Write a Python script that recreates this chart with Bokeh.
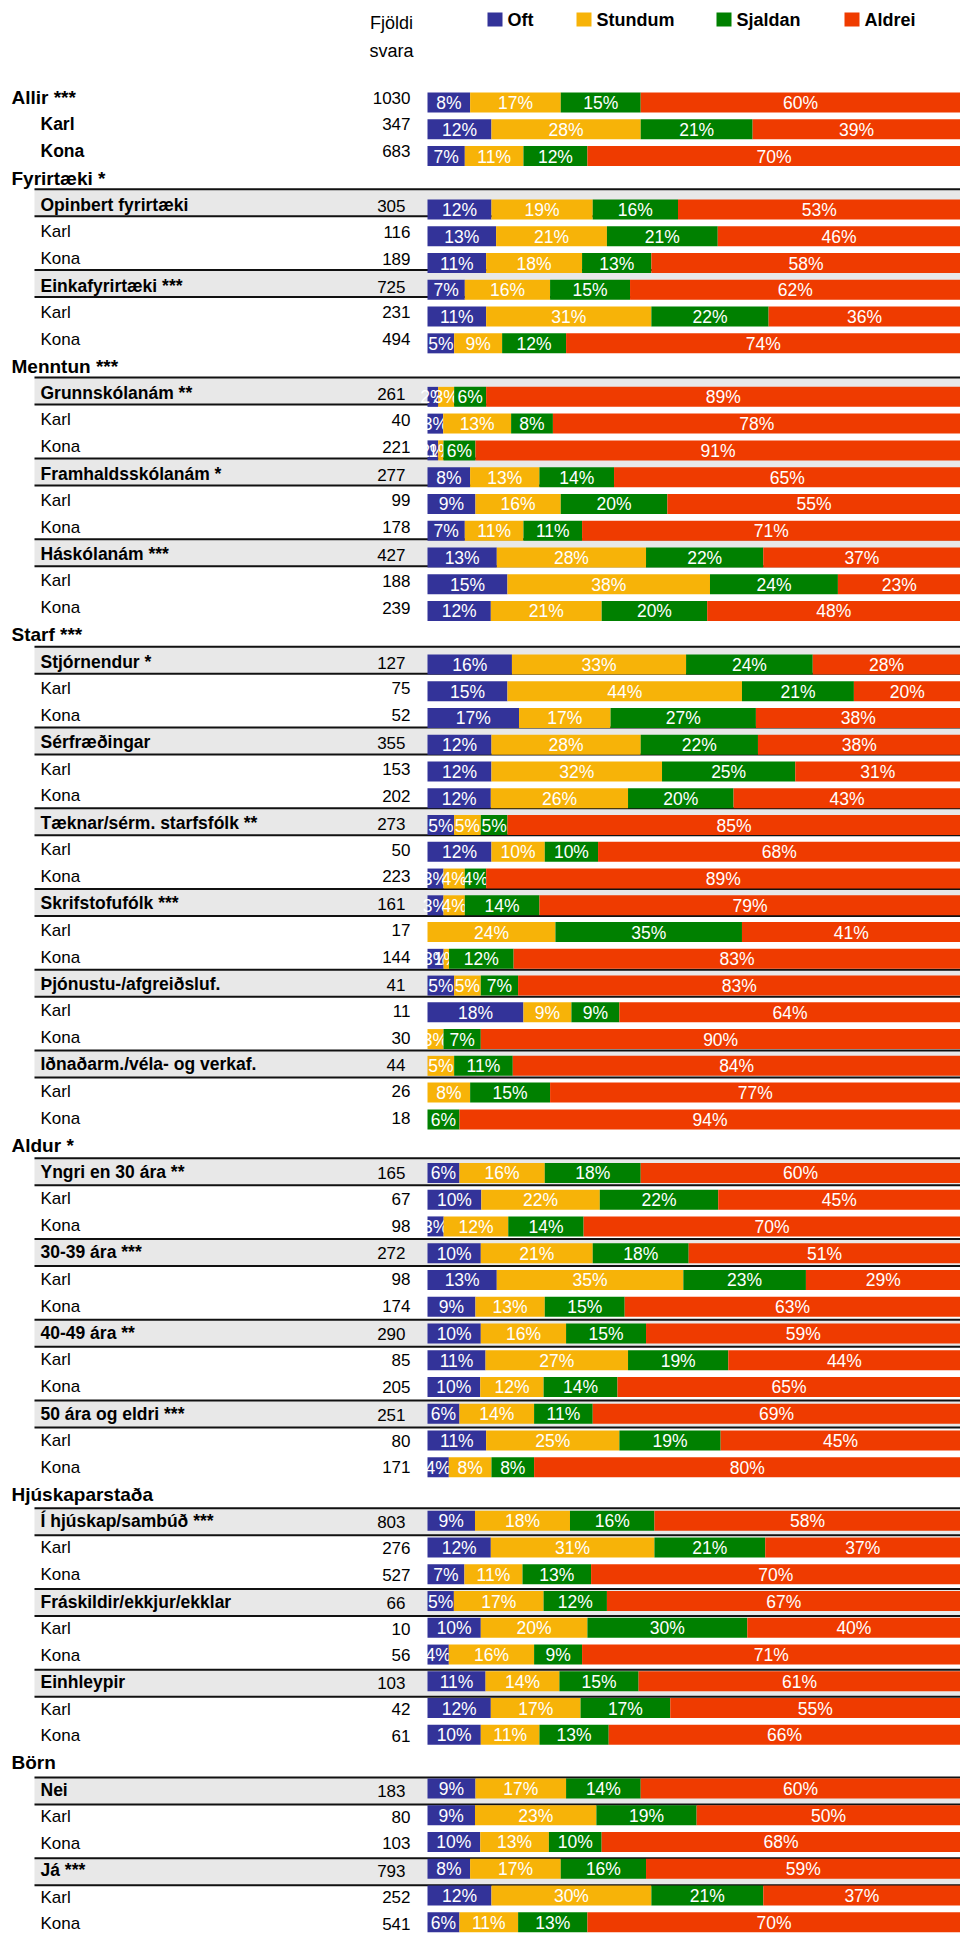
from bokeh.plotting import figure
from bokeh.models import Range1d
from bokeh.embed import file_html
from bokeh.resources import INLINE
from bokeh.core.properties import value

# ---------------- data ----------------
labels = ["Allir ***", "Karl", "Kona",
          "Fyrirtæki *", "Opinbert fyrirtæki", "Karl", "Kona", "Einkafyrirtæki ***", "Karl", "Kona",
          "Menntun ***", "Grunnskólanám **", "Karl", "Kona", "Framhaldsskólanám *", "Karl", "Kona",
          "Háskólanám ***", "Karl", "Kona",
          "Starf ***", "Stjórnendur *", "Karl", "Kona", "Sérfræðingar", "Karl", "Kona",
          "Tæknar/sérm. starfsfólk **", "Karl", "Kona", "Skrifstofufólk ***", "Karl", "Kona",
          "Þjónustu-/afgreiðsluf.", "Karl", "Kona", "Iðnaðarm./véla- og verkaf.", "Karl", "Kona",
          "Aldur *", "Yngri en 30 ára **", "Karl", "Kona", "30-39 ára ***", "Karl", "Kona",
          "40-49 ára **", "Karl", "Kona", "50 ára og eldri ***", "Karl", "Kona",
          "Hjúskaparstaða", "Í hjúskap/sambúð ***", "Karl", "Kona", "Fráskildir/ekkjur/ekklar", "Karl", "Kona",
          "Einhleypir", "Karl", "Kona",
          "Börn", "Nei", "Karl", "Kona", "Já ***", "Karl", "Kona"]

kinds = (["top", "topsub", "topsub"]
         + ["sec"] + ["grp", "sub", "sub"] * 2
         + ["sec"] + ["grp", "sub", "sub"] * 3
         + ["sec"] + ["grp", "sub", "sub"] * 6
         + ["sec"] + ["grp", "sub", "sub"] * 4
         + ["sec"] + ["grp", "sub", "sub"] * 3
         + ["sec"] + ["grp", "sub", "sub"] * 2)

counts = [1030, 347, 683,
          None, 305, 116, 189, 725, 231, 494,
          None, 261, 40, 221, 277, 99, 178, 427, 188, 239,
          None, 127, 75, 52, 355, 153, 202, 273, 50, 223, 161, 17, 144, 41, 11, 30, 44, 26, 18,
          None, 165, 67, 98, 272, 98, 174, 290, 85, 205, 251, 80, 171,
          None, 803, 276, 527, 66, 10, 56, 103, 42, 61,
          None, 183, 80, 103, 793, 252, 541]

oft = [8, 12, 7,
       None, 12, 13, 11, 7, 11, 5,
       None, 2, 3, 2, 8, 9, 7, 13, 15, 12,
       None, 16, 15, 17, 12, 12, 12, 5, 12, 3, 3, 0, 3, 5, 18, 0, 0, 0, 0,
       None, 6, 10, 3, 10, 13, 9, 10, 11, 10, 6, 11, 4,
       None, 9, 12, 7, 5, 10, 4, 11, 12, 10,
       None, 9, 9, 10, 8, 12, 6]
stundum = [17, 28, 11,
           None, 19, 21, 18, 16, 31, 9,
           None, 3, 13, 1, 13, 16, 11, 28, 38, 21,
           None, 33, 44, 17, 28, 32, 26, 5, 10, 4, 4, 24, 1, 5, 9, 3, 5, 8, 0,
           None, 16, 22, 12, 21, 35, 13, 16, 27, 12, 14, 25, 8,
           None, 18, 31, 11, 17, 20, 16, 14, 17, 11,
           None, 17, 23, 13, 17, 30, 11]
sjaldan = [15, 21, 12,
           None, 16, 21, 13, 15, 22, 12,
           None, 6, 8, 6, 14, 20, 11, 22, 24, 20,
           None, 24, 21, 27, 22, 25, 20, 5, 10, 4, 14, 35, 12, 7, 9, 7, 11, 15, 6,
           None, 18, 22, 14, 18, 23, 15, 15, 19, 14, 11, 19, 8,
           None, 16, 21, 13, 12, 30, 9, 15, 17, 13,
           None, 14, 19, 10, 16, 21, 13]
aldrei = [60, 39, 70,
          None, 53, 46, 58, 62, 36, 74,
          None, 89, 78, 91, 65, 55, 71, 37, 23, 48,
          None, 28, 20, 38, 38, 31, 43, 85, 68, 89, 79, 41, 83, 83, 64, 90, 84, 77, 94,
          None, 60, 45, 70, 51, 29, 63, 59, 44, 65, 69, 45, 80,
          None, 58, 37, 70, 67, 40, 71, 61, 55, 66,
          None, 60, 50, 68, 59, 37, 70]

series_names = ["Oft", "Stundum", "Sjaldan", "Aldrei"]
series_colors = ["#333399", "#f7b308", "#008000", "#ef3b00"]
header_lines = ["Fjöldi", "svara"]

# ---------------- layout ----------------
FONT = "Liberation Sans"
W, H = 960, 1935
BAR0, PXPCT = 427.0, 5.33


def X(sx):
    return (sx - BAR0) / PXPCT


def bar_y(i):
    return 102 + i * 26.76


def text_y(i):
    return 97 + i * 26.86


def band_top(i):
    return 81 + i * 26.92


p = figure(width=W, height=H, output_backend="svg", toolbar_location=None,
           x_range=Range1d(X(0), X(960)), y_range=Range1d(H, 0),
           x_axis_location=None, y_axis_location=None, min_border=0,
           outline_line_color=None, background_fill_color="white",
           border_fill_color="white")
p.grid.visible = False

n = len(labels)

# grey bands for group rows
gi = [i for i in range(n) if kinds[i] == "grp"]
p.quad(left=X(34), right=X(960), top=[band_top(i) for i in gi],
       bottom=[band_top(i) + 27 for i in gi], fill_color="#e8e8e8", line_color=None)
ly = [band_top(i) for i in gi] + [band_top(i) + 27 for i in gi]
p.segment(x0=X(34), x1=X(960), y0=ly, y1=ly, line_color="#111111", line_width=2)

# stacked bars
series = [oft, stundum, sjaldan, aldrei]
rows = [i for i in range(n) if oft[i] is not None]
lefts = {i: 0.0 for i in rows}
for k, vals in enumerate(series):
    ys, ls, rs, tx, ty, tt = [], [], [], [], [], []
    for i in rows:
        tot = oft[i] + stundum[i] + sjaldan[i] + aldrei[i]
        w = vals[i] * 100.0 / tot
        l = lefts[i]
        r = l + w
        lefts[i] = r
        if vals[i] > 0:
            ys.append(bar_y(i)); ls.append(l); rs.append(r)
            tx.append((l + r) / 2); ty.append(bar_y(i) + 0.5); tt.append(f"{vals[i]}%")
    p.hbar(y=ys, left=ls, right=rs, height=20, fill_color=series_colors[k], line_color=None)
    p.text(x=tx, y=ty, text=tt, text_color="white", text_font=value(FONT),
           text_font_size="17.5px", text_align="center", text_baseline="middle")


# row labels
def add_labels(idx, x, size, style):
    p.text(x=[X(x)] * len(idx), y=[text_y(i) for i in idx], text=[labels[i] for i in idx],
           text_color="black", text_font=value(FONT), text_font_size=size,
           text_font_style=style, text_align="left", text_baseline="middle")


add_labels([i for i in range(n) if kinds[i] in ("top", "sec")], 11, "19px", "bold")
add_labels([i for i in range(n) if kinds[i] in ("topsub", "grp")], 40, "17.5px", "bold")
add_labels([i for i in range(n) if kinds[i] == "sub"], 40, "17px", "normal")

# counts
ci_w = [i for i in range(n) if counts[i] is not None and kinds[i] != "grp"]
ci_g = [i for i in range(n) if counts[i] is not None and kinds[i] == "grp"]
p.text(x=[X(410)] * len(ci_w), y=[text_y(i) for i in ci_w], text=[str(counts[i]) for i in ci_w],
       text_color="black", text_font=value(FONT), text_font_size="17px",
       text_align="right", text_baseline="middle")
p.text(x=[X(405)] * len(ci_g), y=[text_y(i) + 1 for i in ci_g], text=[str(counts[i]) for i in ci_g],
       text_color="black", text_font=value(FONT), text_font_size="17px",
       text_align="right", text_baseline="middle")

# column header
p.text(x=[X(391)] * 2, y=[22, 50], text=header_lines, text_color="black",
       text_font=value(FONT), text_font_size="18px", text_align="center",
       text_baseline="middle")

# legend
sq_x = [487, 576, 716, 844]
p.quad(left=[X(s) for s in sq_x], right=[X(s + 15) for s in sq_x], top=12, bottom=26,
       fill_color=series_colors, line_color=None)
p.text(x=[X(s + 20) for s in sq_x], y=[19] * 4, text=series_names, text_color="black",
       text_font=value(FONT), text_font_size="18px", text_font_style="bold",
       text_align="left", text_baseline="middle")

open("out.html", "w").write(file_html(p, INLINE))
